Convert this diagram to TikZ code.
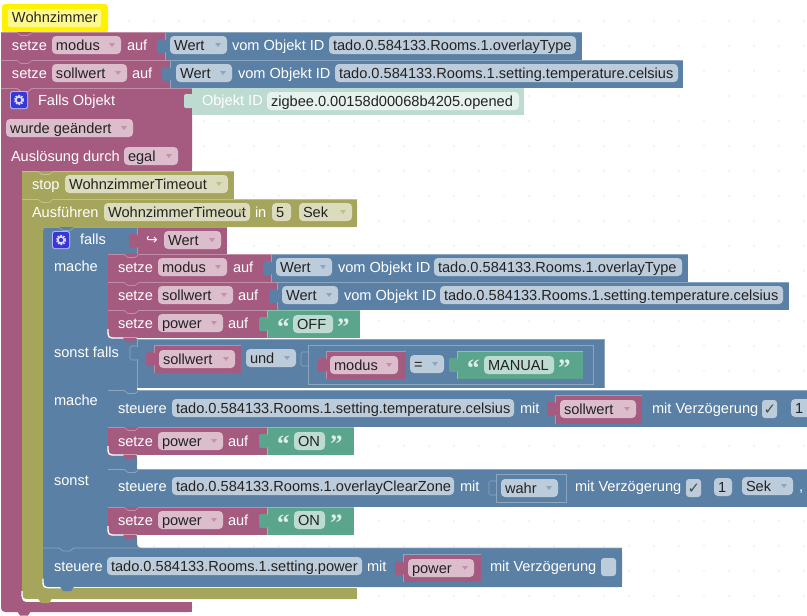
\documentclass[tikz,border=0pt]{standalone}
\usepackage{fontspec}
\setmainfont{Liberation Sans}
\newfontfamily\symfont{DejaVu Sans}
\newfontfamily\quotefont{Liberation Serif}
\definecolor{plum}{HTML}{A55B80}\definecolor{plumF}{HTML}{DBBDCC}\definecolor{plumL}{HTML}{C08DA6}\definecolor{plumA}{HTML}{C68FAA}
\definecolor{blu}{HTML}{5B80A5}\definecolor{bluF}{HTML}{BDCCDB}\definecolor{bluL}{HTML}{8CA6C0}\definecolor{bluA}{HTML}{8CA6C0}
\definecolor{oli}{HTML}{A5A55B}\definecolor{oliF}{HTML}{DBDBBD}\definecolor{oliL}{HTML}{C0C08D}\definecolor{oliA}{HTML}{C0C08D}
\definecolor{grn}{HTML}{5BA58C}\definecolor{grnF}{HTML}{BDDBD1}\definecolor{grnL}{HTML}{8DC0AE}\definecolor{grnQ}{HTML}{DCEEE8}
\definecolor{tea}{HTML}{BEDBD1}\definecolor{teaF}{HTML}{E6F2EE}
\definecolor{txt}{HTML}{222222}
\newcount\nn
\tikzset{
  lab/.style={anchor=base west,inner sep=0pt,outer sep=0pt,text=white,font=\fontsize{14.6}{16}\selectfont},
  dark/.style={lab,text=txt},
}
% label: x, y-centre, text
\newcommand{\lb}[3]{\global\advance\nn 1 \node[lab] (n\the\nn) at (#1,#2+5) {#3};}
% field: x1,x2,yc,colour,text
\newcommand{\fl}[5]{\fill[#4,rounded corners=4pt] (#1,#3-9) rectangle (#2,#3+9);
  \global\advance\nn 1 \node[dark] (n\the\nn) at (#1+4,#3+5) {#5};}
% dropdown field: x1,x2,yc,colour,arrow colour,text
\newcommand{\dd}[6]{\fl{#1}{#2}{#3}{#4}{#6}\fill[#5] (#2-12,#3-2) -- (#2-6,#3-2) -- (#2-9,#3+2) -- cycle;}
% stacked block: x1,y1,x2,y2,col,light
\newcommand{\blk}[6]{\fill[#5] (#1,#2) rectangle (#3,#4);
  \draw[#6,line width=.7pt] (#1,#2+.4) -- (#1+16,#2+.4) -- (#1+20,#2+3.5) -- (#1+27,#2+3.5) -- (#1+31,#2+.4) -- (#3,#2+.4);}
% value block: x1,y1,x2,y2,col,light
\newcommand{\vb}[6]{\fill[#5] (#1,#2) rectangle (#3,#4);
  \draw[#6,line width=.6pt] (#1+.3,#4) -- (#1+.3,#2+.3) -- (#3,#2+.3);
  \fill[#5,rounded corners=1.5pt] (#1-8,#2+7) rectangle (#1+1,#2+21);}
% faint tab on a block of the same colour: x, ytop
\newcommand{\ft}[2]{\draw[bluL,line width=.6pt,rounded corners=1.5pt] (#1,#2+7) -- (#1-7,#2+7) -- (#1-7,#2+21) -- (#1,#2+21);}
% bottom notch
\newcommand{\bn}[3]{\fill[#3] (#1,#2-.5) -- (#1+3,#2+4) -- (#1+11,#2+4) -- (#1+14,#2-.5) -- cycle;}
% white inner corner
\newcommand{\wc}[3]{\draw[white,line width=1.3pt] (#1,#2-9) .. controls (#1,#2) .. (#1+9,#2) -- (#1+#3,#2);}
% gear icon
\newcommand{\gear}[2]{\fill[white!70!blue,rounded corners=2.5pt] (#1-9,#2-9) rectangle (#1+9,#2+9);
  \fill[blue!75!white!85!black,rounded corners=2pt] (#1-8,#2-8) rectangle (#1+8,#2+8);
  \draw[white!85!blue,line width=1.6pt,dash pattern=on 1.6pt off 1.2pt] (#1,#2) circle (4.4);
  \draw[white!85!blue,line width=1.6pt] (#1,#2) circle (3.2);}
% quoted text: q1 x, field x1, x2, q2 x, yc, text
\newcommand{\qt}[6]{\global\advance\nn 1 \node[lab,text=grnQ,font=\quotefont\bfseries\fontsize{25}{25}\selectfont] (n\the\nn) at (#1,#5+11.5) {“};
  \fl{#2}{#3}{#5}{grnF}{#6}
  \global\advance\nn 1 \node[lab,text=grnQ,font=\quotefont\bfseries\fontsize{25}{25}\selectfont] (n\the\nn) at (#4,#5+11.5) {”};}
% checkbox
\newcommand{\cb}[3]{\fill[bluF,rounded corners=3pt] (#1,#2-9) rectangle (#1+15,#2+9);
  \global\advance\nn 1 \ifx#3y\node[dark,text=black!70,font=\symfont\fontsize{15}{15}\selectfont] (n\the\nn) at (#1+1.5,#2+5.5) {✓};\fi}
\begin{document}
\begin{tikzpicture}[x=1pt,y=-1pt]
\useasboundingbox (0,0) rectangle (807,616);
\clip (0,0) rectangle (807,616);
\fill[white] (0,0) rectangle (807,616);
% grid dots
\foreach \i in {0,...,32}\foreach \j in {0,...,24}{\fill[black!20] (4+25*\i,21+25*\j) circle (.7);}
% ---------- comment
\fill[yellow,rounded corners=3pt] (2,4) -- (108,4) -- (108,33) -- (2,33) -- cycle;
\bn{17}{32}{yellow}
\fill[yellow!45!white,rounded corners=2pt] (8,9) rectangle (101,27);
\global\advance\nn 1 \node[dark,text=black!85] (n\the\nn) at (12,22) {Wohnzimmer};
% ---------- outer plum C
\fill[plum,rounded corners=4pt] (1,88) -- (192,88) -- (192,172) -- (22,172) -- (22,602) -- (192,602) -- (192,612) -- (1,612) -- cycle;
\fill[plum] (1,88) rectangle (192,172);
\fill[plum] (100,602) rectangle (192,612);
\bn{17}{611.5}{plum}
\draw[plumL,line width=.7pt] (1,88.4) -- (17,88.4) -- (21,91.5) -- (28,91.5) -- (32,88.4) -- (192,88.4);
% row 1
\blk{1}{32}{166}{60}{plum}{plumL}
\vb{165}{32}{582}{60}{blu}{bluL}
\lb{12}{45}{setze}\dd{52}{121}{45}{plumF}{plumA}{modus}\lb{127}{45}{auf}
\dd{170}{227}{45}{bluF}{bluA}{Wert}\lb{232}{45}{vom Objekt ID}\fl{329}{576}{45}{bluF}{tado.0.584133.Rooms.1.overlayType}
% row 2
\blk{1}{60}{171}{88}{plum}{plumL}
\vb{170}{60}{683}{88}{blu}{bluL}
\lb{12}{73}{setze}\dd{52}{127}{73}{plumF}{plumA}{sollwert}\lb{132}{73}{auf}
\dd{176}{232}{73}{bluF}{bluA}{Wert}\lb{238}{73}{vom Objekt ID}\fl{335}{678}{73}{bluF}{tado.0.584133.Rooms.1.setting.temperature.celsius}
\draw[plumL,line width=.7pt] (1,88.4) -- (17,88.4) -- (21,91.5) -- (28,91.5) -- (32,88.4) -- (192,88.4);
% Falls Objekt
\gear{19}{100}\lb{38}{100}{Falls Objekt}
\fill[tea] (192,88) rectangle (524,115);
\fill[tea,rounded corners=1.5pt] (184,94) rectangle (193,108);
\lb{202}{100}{Objekt ID}\fl{267}{519}{101}{teaF}{zigbee.0.00158d00068b4205.opened}
\dd{6}{133}{128}{plumF}{plumA}{wurde geändert}
\lb{11}{156}{Auslösung durch}\dd{124}{178}{156}{plumF}{plumA}{egal}
% ---------- stop
\blk{22}{171}{234}{199}{oli}{oliL}
\lb{32}{184}{stop}\dd{65}{228}{184}{oliF}{oliA}{WohnzimmerTimeout}
% ---------- Ausfuehren C
\fill[oli,rounded corners=4pt] (22,199) -- (357,199) -- (357,227) -- (43,227) -- (43,588) -- (357,588) -- (357,599) -- (22,599) -- cycle;
\fill[oli] (22,199) rectangle (357,227);
\fill[oli] (100,588) rectangle (357,599);
\draw[oliL,line width=.7pt] (22,199.4) -- (38,199.4) -- (42,202.5) -- (49,202.5) -- (53,199.4) -- (357,199.4);
\wc{22}{600}{34}
\bn{38}{599}{oli}
\lb{32}{212}{Ausführen}\dd{104}{250}{212}{oliF}{oliA}{WohnzimmerTimeout}\lb{255}{212}{in}
\fl{272}{291}{212}{oliF}{5}\dd{299}{352}{212}{oliF}{oliA}{Sek}
% ---------- falls C
\fill[blu,rounded corners=4pt] (43,227) -- (137,227) -- (137,254) -- (108,254) -- (108,338) -- (137,338) -- (137,390) -- (108,390) -- (108,455) -- (137,455) -- (137,469) -- (108,469) -- (108,535) -- (137,535) -- (137,548) -- (622,548) -- (622,587) -- (43,587) -- cycle;
\fill[blu] (43,240) rectangle (108,300);\fill[blu] (108,338) rectangle (137,400);\fill[blu] (108,450) rectangle (137,475);\fill[blu] (108,530) rectangle (137,555);
\fill[blu] (60,227) rectangle (137,254);
\fill[blu] (108,548) rectangle (622,587);
\draw[bluL,line width=.7pt] (43,227.4) -- (59,227.4) -- (63,230.5) -- (70,230.5) -- (74,227.4) -- (137,227.4);
\wc{43}{587.7}{27}
\bn{60}{587}{blu}
\gear{61}{240}\lb{80}{239}{falls}
\lb{54}{266}{mache}\lb{54}{352}{sonst falls}\lb{54}{400}{mache}\lb{54}{480}{sonst}
% falls value
\vb{137}{227}{227}{254}{plum}{plumL}
\global\advance\nn 1 \node[lab,font=\symfont\fontsize{14}{14}\selectfont] (n\the\nn) at (146,244) {↪};
\dd{164}{221}{240}{plumF}{plumA}{Wert}
% mache 1
\blk{108}{254}{272}{282}{plum}{plumL}
\vb{271}{254}{688}{282}{blu}{bluL}
\lb{118}{267}{setze}\dd{158}{227}{267}{plumF}{plumA}{modus}\lb{233}{267}{auf}
\dd{276}{332}{267}{bluF}{bluA}{Wert}\lb{338}{267}{vom Objekt ID}\fl{434}{682}{267}{bluF}{tado.0.584133.Rooms.1.overlayType}
\blk{108}{282}{278}{310}{plum}{plumL}
\vb{277}{282}{789}{310}{blu}{bluL}
\lb{118}{295}{setze}\dd{158}{233}{295}{plumF}{plumA}{sollwert}\lb{238}{295}{auf}
\dd{282}{338}{295}{bluF}{bluA}{Wert}\lb{344}{295}{vom Objekt ID}\fl{440}{783}{295}{bluF}{tado.0.584133.Rooms.1.setting.temperature.celsius}
\blk{108}{310}{268}{338}{plum}{plumL}
\vb{267}{310}{360}{338}{grn}{grnL}
\lb{118}{323}{setze}\dd{158}{223}{323}{plumF}{plumA}{power}\lb{228}{323}{auf}
\qt{277}{293}{333}{337}{324}{OFF}
\wc{108}{338}{29}
\bn{123}{338}{plum}
% sonst falls value
\vb{137}{339}{604}{388}{blu}{bluL}
\ft{137}{339}
\draw[bluL,line width=.6pt] (604,339) -- (604,388);
\vb{154}{345}{241}{373}{plum}{plumL}
\dd{159}{235}{359}{plumF}{plumA}{sollwert}
\dd{246}{296}{358}{bluF}{bluA}{und}
\fill[blu] (308,345) rectangle (593,384);
\draw[bluL,line width=.6pt] (308,345) rectangle (593,384);
\ft{308}{345}
\vb{326}{351}{406}{379}{plum}{plumL}
\dd{330}{398}{365}{plumF}{plumA}{modus}
\dd{410}{444}{364}{bluF}{bluA}{=}
\vb{457}{351}{583}{379}{grn}{grnL}
\qt{467}{484}{554}{558}{365}{MANUAL}
% steuere 1
\blk{108}{390}{810}{427}{blu}{bluL}
\lb{118}{408}{steuere}\fl{172}{514}{408}{bluF}{tado.0.584133.Rooms.1.setting.temperature.celsius}\lb{520}{408}{mit}
\vb{555}{395}{642}{424}{plum}{bluL}
\dd{560}{636}{409}{plumF}{plumA}{sollwert}
\lb{652}{408}{mit Verzögerung}\cb{762}{409}{y}
\fl{791}{815}{408}{bluF}{1}
\blk{108}{427}{268}{455}{plum}{plumL}
\vb{267}{427}{354}{455}{grn}{grnL}
\lb{118}{441}{setze}\dd{158}{223}{441}{plumF}{plumA}{power}\lb{228}{441}{auf}
\qt{277}{294}{325}{330}{441}{ON}
\wc{108}{455}{29}
\bn{123}{455}{plum}
% steuere 2
\blk{108}{469}{810}{507}{blu}{bluL}
\lb{118}{486}{steuere}\fl{172}{454}{486}{bluF}{tado.0.584133.Rooms.1.overlayClearZone}\lb{460}{486}{mit}
\draw[bluL,line width=.6pt] (496,474) rectangle (566,502);
\ft{496}{474}
\dd{501}{558}{488}{bluF}{bluA}{wahr}
\lb{575}{486}{mit Verzögerung}\cb{686}{488}{y}
\fl{714}{732}{487}{bluF}{1}\dd{742}{793}{486}{bluF}{bluA}{Sek}\lb{799}{486}{,}
\blk{108}{507}{268}{535}{plum}{plumL}
\vb{267}{507}{354}{535}{grn}{grnL}
\lb{118}{520}{setze}\dd{158}{223}{520}{plumF}{plumA}{power}\lb{228}{520}{auf}
\qt{277}{294}{325}{330}{520}{ON}
\wc{108}{535}{29}
\bn{123}{535}{plum}
% steuere 3
\draw[bluL,line width=.7pt] (43,547.9) -- (59,547.9) -- (63,551) -- (70,551) -- (74,547.9) -- (622,547.9);
\lb{54}{566}{steuere}\fl{107}{362}{566}{bluF}{tado.0.584133.Rooms.1.setting.power}\lb{367}{566}{mit}
\vb{403}{554}{481}{582}{plum}{bluL}
\dd{408}{474}{568}{plumF}{plumA}{power}
\lb{490}{566}{mit Verzögerung}\cb{601}{567}{n}
\end{tikzpicture}
\end{document}
